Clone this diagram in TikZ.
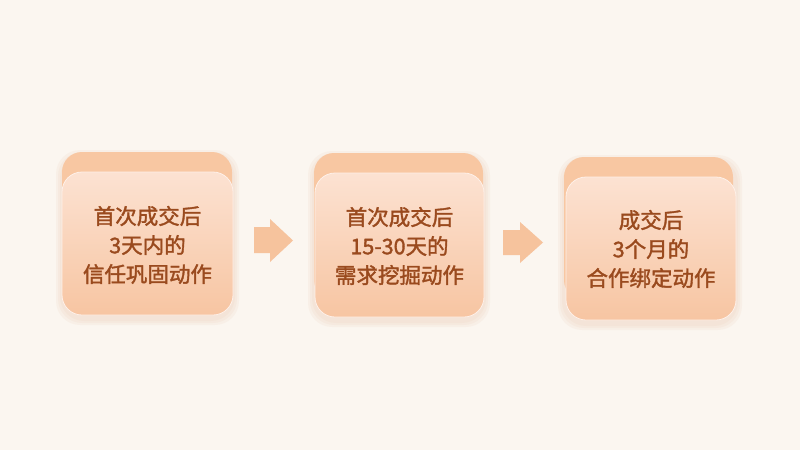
\documentclass[tikz,border=0pt]{standalone}
\usepackage{fontspec}
\newfontfamily\cjk{Noto Sans CJK SC}[FakeBold=1.6]
\usetikzlibrary{shadings}
\definecolor{bgc}{HTML}{FBF6F0}
\definecolor{backc}{HTML}{F8C7A2}
\definecolor{fronttop}{HTML}{FCE2D2}
\definecolor{frontbot}{HTML}{F7C5A2}
\definecolor{arrowc}{HTML}{F6C39D}
\definecolor{txtc}{HTML}{9A4A1E}
\definecolor{shadowc}{HTML}{E8C4A8}
\tikzset{
  backcard/.style={fill=backc, rounded corners=20pt},
  frontcard/.style={top color=fronttop, bottom color=frontbot, rounded corners=20pt, draw=white!50!fronttop, line width=0.8pt},
  softshadow/.style={fill=shadowc, opacity=0.12, rounded corners=24pt},
  label/.style={font=\cjk\fontsize{21.5}{29}\selectfont, text=txtc, align=center},
  flowarrow/.style={fill=arrowc}
}
\begin{document}
\begin{tikzpicture}[x=1pt,y=-1pt]
\useasboundingbox (0,0) rectangle (800,450);
\fill[bgc] (0,0) rectangle (800,450);
% card 1
\foreach \d in {2,4,6}{\fill[softshadow] (62-\d,152-\d+4) rectangle (233+\d,315+\d+4);}
\fill[backcard] (62,152) rectangle (232,300);
\shade[frontcard] (62,172) rectangle (233,315);
\node[label] (t1) at (147.5,245) {首次成交后\\3天内的\\信任巩固动作};
% card 2
\foreach \d in {2,4,6}{\fill[softshadow] (314-\d,153-\d+4) rectangle (484+\d,317+\d+4);}
\fill[backcard] (314,153) rectangle (483,300);
\shade[frontcard] (315,173) rectangle (484,317);
\node[label] (t2) at (399.5,246) {首次成交后\\15-30天的\\需求挖掘动作};
% card 3
\foreach \d in {2,4,6}{\fill[softshadow] (564-\d,157-\d+4) rectangle (736+\d,320+\d+4);}
\fill[backcard] (564,157) rectangle (733,300);
\shade[frontcard] (566,177) rectangle (736,320);
\node[label] (t3) at (651,249) {成交后\\3个月的\\合作绑定动作};
% arrows
\fill[flowarrow] (254,227) -- (270,227) -- (270,219) -- (293,240.5) -- (270,262) -- (270,253) -- (254,253) -- cycle;
\fill[flowarrow] (503,230) -- (520,230) -- (520,222) -- (543,242.5) -- (520,263) -- (520,255) -- (503,255) -- cycle;
\end{tikzpicture}
\end{document}
